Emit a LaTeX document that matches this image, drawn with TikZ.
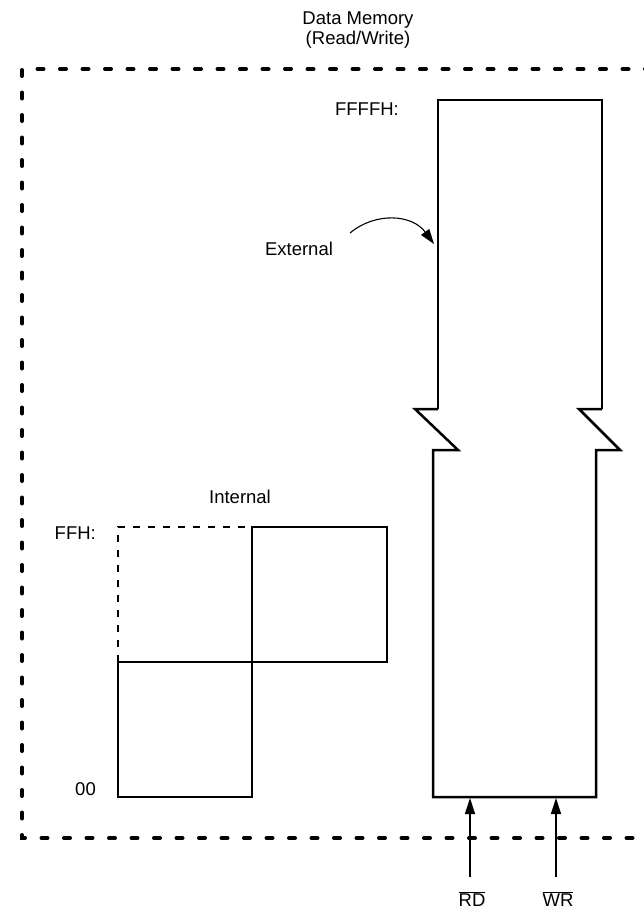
\documentclass[tikz,border=0pt]{standalone}
\usepackage{fontspec}
\setmainfont{Liberation Sans}
\usetikzlibrary{arrows.meta}
\begin{document}
\begin{tikzpicture}[x=1pt,y=-1pt,
  lbl/.style={font=\fontsize{18.5}{22}\selectfont, inner sep=0pt},
  solidline/.style={line width=2.5pt, line join=miter},
  border/.style={line width=4pt, line cap=round, dash pattern=on 6pt off 16.5pt},
  thindash/.style={line width=2.2pt, dash pattern=on 7pt off 8pt},
  sig/.style={line width=1.3pt, -{Triangle[length=16pt,width=10pt]}}]
\useasboundingbox (0,0) rectangle (644,913);
\begin{scope}
\clip (0,0) rectangle (644,913);
% dashed border
\draw[border] (700,838) -- (22,838) -- (22,69) -- (700,69);
\end{scope}
% title
\node[lbl] (title1) at (358,20) {Data Memory};
\node[lbl] (title2) at (358,40) {(Read/Write)};
% external memory block
\coordinate (etl) at (438,100);
\coordinate (etr) at (602,100);
\coordinate (ebl) at (433,797);
\coordinate (ebr) at (596,797);
\draw[solidline] (438,409) -- (etl) -- (etr) -- (602,409);
\draw[solidline] (438,409) -- (415,409) -- (458,450) -- (433,450) -- (ebl) -- (ebr) -- (596,450) -- (620,450) -- (579,409) -- (602,409);
\node[lbl, anchor=east] (ffff) at (399,109) {FFFFH:};
\node[lbl] (ext) at (299,249) {External};
\coordinate (extstart) at (350,233);
\coordinate (exttip) at (434,244);
\draw[line width=1.1pt, -{Triangle[length=15pt,width=10pt]}] (extstart) .. controls (375,212) and (412,214) .. (exttip);
% internal memory
\node[lbl] (int) at (240,497) {Internal};
\node[lbl, anchor=east] (ffh) at (96,533) {FFH:};
\node[lbl, anchor=east] (zero) at (96,789) {00};
\draw[thindash] (118,662) -- (118,527) -- (252,527);
\draw[solidline] (252,527) rectangle (387,662);
\draw[solidline] (118,662) rectangle (252,797);
% signals
\coordinate (rdb) at (470,877);
\coordinate (wrb) at (556,877);
\draw[sig] (rdb) -- (470,798);
\draw[sig] (wrb) -- (556,798);
\node[lbl] (rd) at (472,899) {$\overline{\mbox{RD}}$};
\node[lbl] (wr) at (558,899) {$\overline{\mbox{WR}}$};
\end{tikzpicture}
\end{document}
